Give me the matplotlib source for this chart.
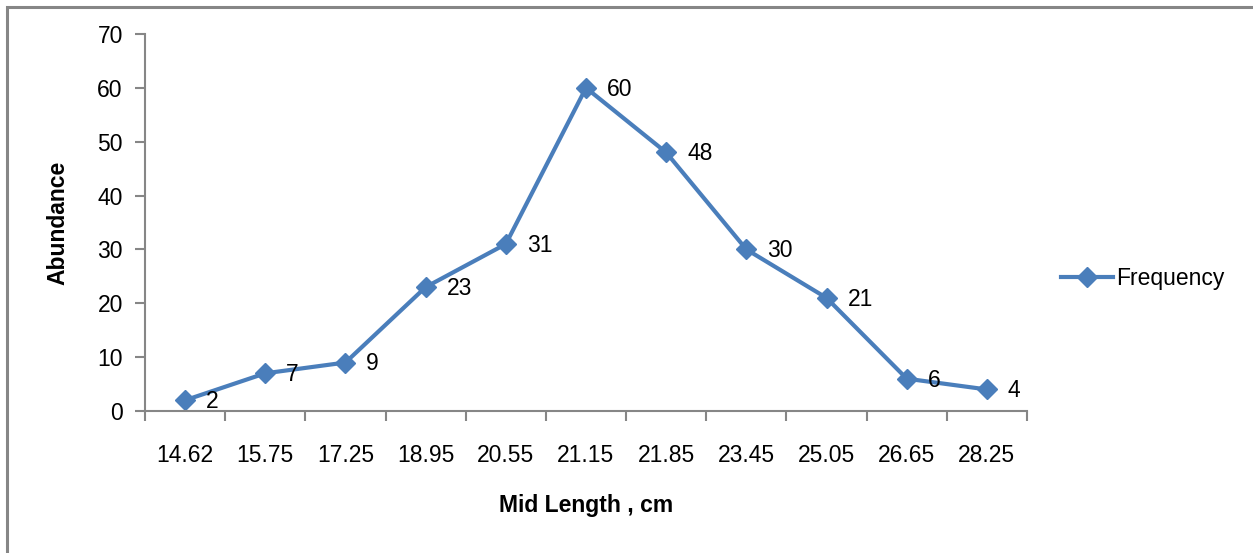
import matplotlib
matplotlib.use("Agg")
import matplotlib.pyplot as plt
import matplotlib.patches as patches
from matplotlib import font_manager

mid_length = ["14.62", "15.75", "17.25", "18.95", "20.55", "21.15",
              "21.85", "23.45", "25.05", "26.65", "28.25"]
frequency = [2, 7, 9, 23, 31, 60, 48, 30, 21, 6, 4]

names = {f.name for f in font_manager.fontManager.ttflist}
family = ["Liberation Sans Narrow", "Liberation Sans", "DejaVu Sans"]
family = [f for f in family if f in names] or ["DejaVu Sans"]
plt.rcParams['font.family'] = family

blue = '#4A7EBB'
gray = '#868686'
fs = 16.5

fig = plt.figure(figsize=(12.53, 5.53), dpi=100)
ax = fig.add_axes([145 / 1253, 1 - 411 / 553, (1027 - 145) / 1253, (411 - 34) / 553])

# outer frame (only left and top visible)
fig.patches.append(patches.Rectangle((7 / 1253, -0.1), 1.2, (553 - 7) / 553 + 0.1,
                                     transform=fig.transFigure, fill=False,
                                     edgecolor=gray, linewidth=2.2))

x = list(range(len(frequency)))
ax.plot(x, frequency, color=blue, linewidth=3, marker='D', markersize=10.5,
        label='Frequency')

for xi, v in zip(x, frequency):
    ax.annotate(str(v), (xi, v), xytext=(15, -1), textcoords='offset points',
                va='center', ha='left', fontsize=fs)

ax.set_xlim(-0.5, len(frequency) - 0.5)
ax.set_ylim(0, 70)
ax.set_yticks(range(0, 71, 10))
ax.set_xticks(x)
ax.set_xticklabels(mid_length)
ax.set_xticks([i - 0.5 for i in range(len(frequency) + 1)], minor=True)
ax.tick_params(axis='x', which='major', length=0, pad=24, labelsize=fs)
ax.tick_params(axis='x', which='minor', length=7, color=gray, width=1.5, direction='out')
ax.tick_params(axis='y', length=7, color=gray, width=1.5, direction='out', pad=9, labelsize=fs)

for s in ['top', 'right']:
    ax.spines[s].set_visible(False)
for s in ['left', 'bottom']:
    ax.spines[s].set_color(gray)
    ax.spines[s].set_linewidth(1.5)

ax.set_ylabel('Abundance', fontsize=fs, fontweight='bold', labelpad=20)
ax.set_xlabel('Mid Length , cm', fontsize=fs, fontweight='bold', labelpad=19)

fig.legend(loc='center left', bbox_to_anchor=(1040 / 1253, 1 - 279 / 553),
           frameon=False, fontsize=fs, handlelength=2.3, handletextpad=0.1)

fig.savefig('out.png', dpi=100)
